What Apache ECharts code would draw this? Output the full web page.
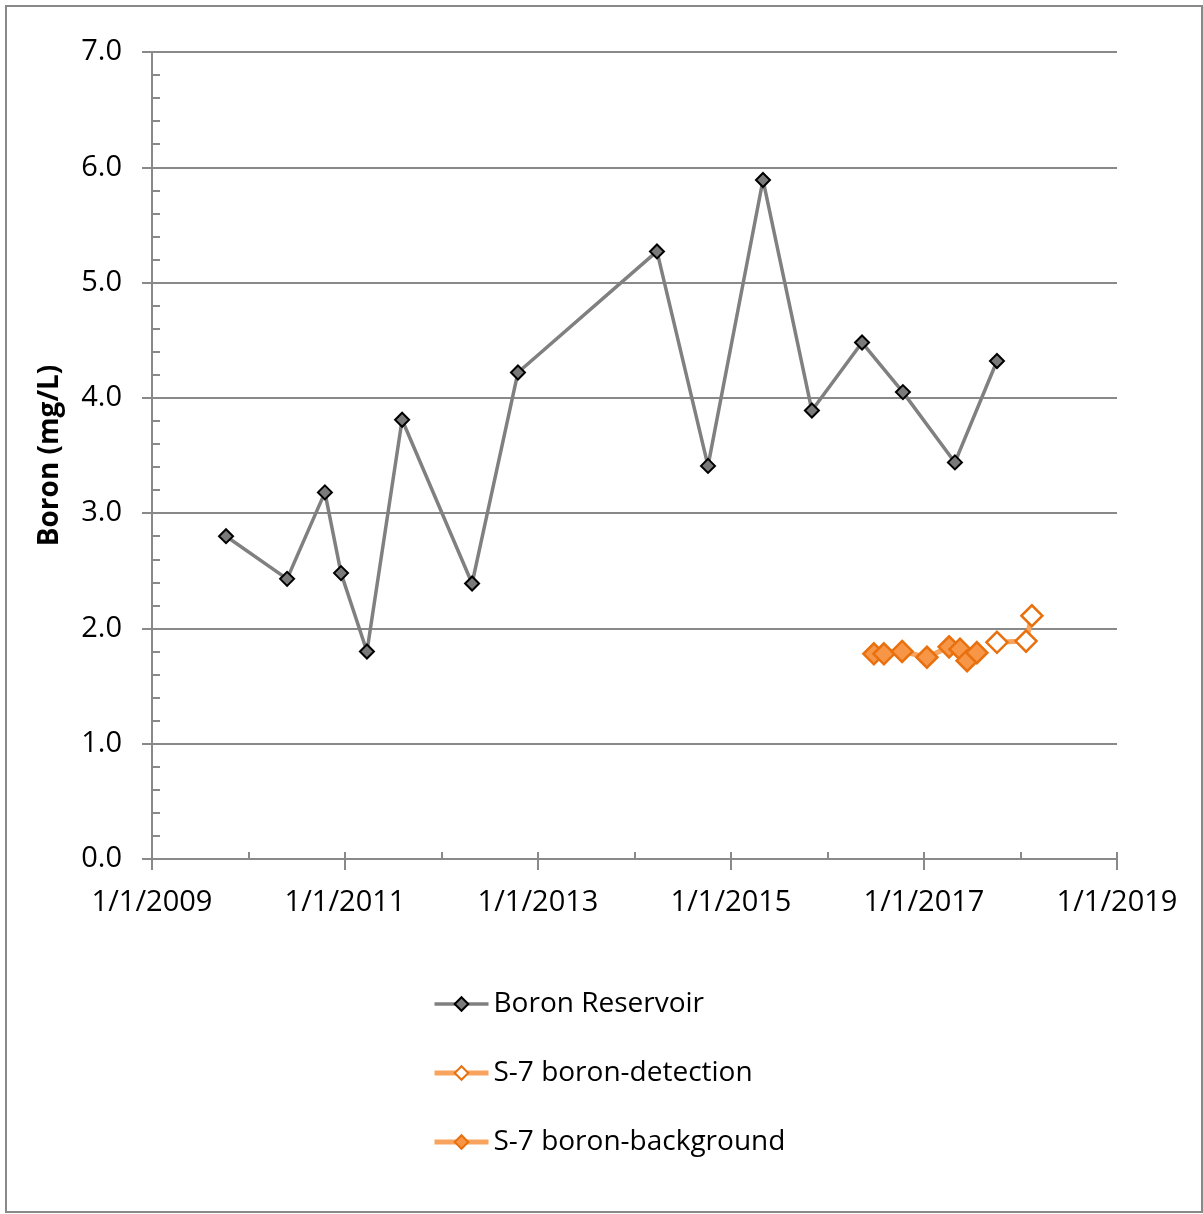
<!DOCTYPE html>
<html><head><meta charset="utf-8">
<script src="https://cdn.jsdelivr.net/npm/echarts@6/dist/echarts.min.js"></script>
<style>html,body{margin:0;padding:0;background:#fff}#c{width:1203px;height:1214px}</style>
</head><body><div id="c"></div>
<script>
const reservoirDates = ['2009-10-08','2010-05-27','2010-10-17','2010-12-17','2011-03-25','2011-08-05','2012-04-26','2012-10-17','2014-03-27','2014-10-06','2015-05-02','2015-11-03','2016-05-11','2016-10-13','2017-04-28','2017-10-04'];
const reservoirValues = [2.80,2.43,3.18,2.48,1.80,3.81,2.39,4.22,5.27,3.41,5.89,3.89,4.48,4.05,3.44,4.32];
const detectionDates = ['2017-10-04','2018-01-22','2018-02-13'];
const detectionValues = [1.88,1.89,2.11];
const backgroundDates = ['2016-06-25','2016-08-02','2016-10-10','2017-01-12','2017-04-06','2017-05-17','2017-06-13','2017-07-20'];
const backgroundValues = [1.78,1.78,1.80,1.75,1.84,1.82,1.72,1.79];
const yTicks = ['0.0','1.0','2.0','3.0','4.0','5.0','6.0','7.0'];
const xTickYears = [2009,2011,2013,2015,2017,2019];

function decYear(s){
  const [y,m,d] = s.split('-').map(Number);
  const start = Date.UTC(y,0,1), end = Date.UTC(y+1,0,1);
  return y + (Date.UTC(y,m-1,d)-start)/(end-start);
}
function pts(dates, vals){ return dates.map((d,i)=>[decYear(d), vals[i]]); }

const FONT = '"Open Sans", "Noto Sans", sans-serif';
const AX = '#898989';
const GRAY_LINE = '#808080';
const ORANGE_LINE = '#F9A45E';
const chart = echarts.init(document.getElementById('c'), null, {renderer:'canvas'});
chart.setOption({
  animation:false,
  backgroundColor:'#fff',
  graphic:[{type:'rect', shape:{x:6,y:6,width:1196,height:1206}, style:{fill:'none', stroke:AX, lineWidth:2}, silent:true}],
  grid:{left:152, right:86, top:52, bottom:355, containLabel:false},
  xAxis:[{
    type:'value', min:xTickYears[0], max:xTickYears[xTickYears.length-1], interval:2,
    axisLine:{lineStyle:{color:AX, width:2}},
    axisTick:{show:true, inside:false, length:11, lineStyle:{color:AX, width:2}},
    splitLine:{show:false},
    axisLabel:{margin:29, fontSize:29, fontFamily:FONT, color:'#000', formatter:v=>'1/1/'+Math.round(v)}
  },{
    type:'value', min:xTickYears[0], max:xTickYears[xTickYears.length-1], interval:1, position:'bottom',
    axisLine:{show:false},
    axisTick:{show:true, inside:true, length:7, lineStyle:{color:AX, width:2}},
    splitLine:{show:false}, axisLabel:{show:false}
  }],
  yAxis:[{
    type:'value', min:0, max:7, interval:1,
    axisLine:{show:true, lineStyle:{color:AX, width:2}},
    axisTick:{show:true, inside:false, length:10, lineStyle:{color:AX, width:2}},
    splitLine:{show:true, lineStyle:{color:AX, width:2}},
    axisLabel:{margin:30, fontSize:29, fontFamily:FONT, color:'#000', formatter:v=>yTicks[Math.round(v)]},
    name:'Boron (mg/L)', nameLocation:'middle', nameGap:88, nameRotate:90,
    nameTextStyle:{fontSize:28, fontWeight:'bold', fontFamily:FONT, color:'#000'}
  },{
    type:'value', min:0, max:7, interval:0.2, position:'left',
    axisLine:{show:false},
    axisTick:{show:true, inside:true, length:8, lineStyle:{color:AX, width:2}},
    splitLine:{show:false}, axisLabel:{show:false}
  }],
  legend:{
    orient:'vertical', left:427, top:985, itemWidth:54, itemHeight:17, itemGap:41,
    textStyle:{fontSize:28, fontFamily:FONT, color:'#000'},
    data:[
      {name:'Boron Reservoir', lineStyle:{color:GRAY_LINE, width:3.5}},
      {name:'S-7 boron-detection', lineStyle:{color:ORANGE_LINE, width:5}},
      {name:'S-7 boron-background', lineStyle:{color:ORANGE_LINE, width:5}}
    ]
  },
  series:[{
    name:'Boron Reservoir', type:'line', data:pts(reservoirDates,reservoirValues),
    symbol:'diamond', symbolSize:14,
    lineStyle:{color:GRAY_LINE, width:3.5},
    itemStyle:{color:'#7a7a7a', borderColor:'#000', borderWidth:2}
  },{
    name:'S-7 boron-detection', type:'line', data:pts(detectionDates,detectionValues),
    symbol:'diamond', symbolSize:21,
    lineStyle:{color:ORANGE_LINE, width:5},
    itemStyle:{color:'#fff', borderColor:'#E8700E', borderWidth:2.5}
  },{
    name:'S-7 boron-background', type:'line', data:pts(backgroundDates,backgroundValues),
    symbol:'diamond', symbolSize:21,
    lineStyle:{color:ORANGE_LINE, width:5},
    itemStyle:{color:'#F79646', borderColor:'#E8700E', borderWidth:2.5}
  }]
});
</script></body></html>
